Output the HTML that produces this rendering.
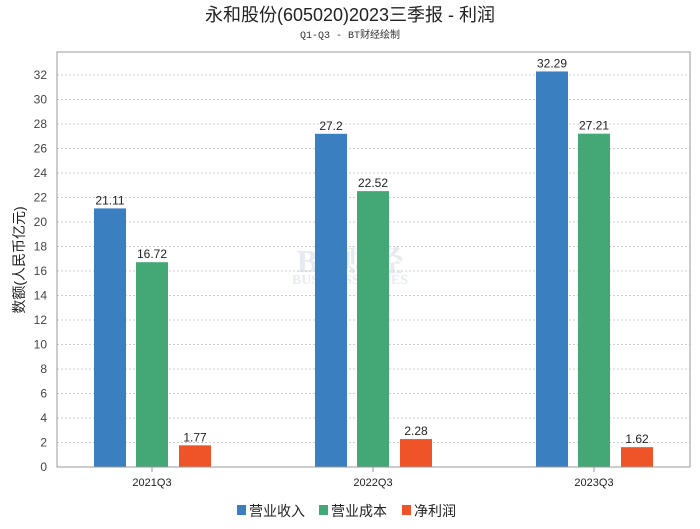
<!DOCTYPE html>
<html><head><meta charset="utf-8"><style>
body{margin:0;background:#fff;font-family:"Liberation Sans","Noto Sans CJK SC",sans-serif;}
</style></head><body>
<svg id="c" width="700" height="524" xmlns="http://www.w3.org/2000/svg">
<text x="350" y="21" text-anchor="middle" font-size="18" fill="#222" font-family="Liberation Sans,Noto Sans CJK SC,sans-serif">永和股份(605020)2023三季报 - 利润</text>
<text x="350" y="38" text-anchor="middle" font-size="10" fill="#333" font-family="Liberation Mono,Noto Sans CJK SC,sans-serif">Q1-Q3 - BT财经绘制</text>
<text x="350" y="272" text-anchor="middle" font-size="32" font-weight="bold" fill="#e6ebf2" font-family="Liberation Serif,Noto Serif CJK SC,serif">BT财经</text>
<text x="350" y="284" text-anchor="middle" font-size="14" font-weight="bold" fill="#e6ebf2" font-family="Liberation Serif,serif">BUSINESS TIMES</text>
<text transform="translate(24,260) rotate(-90)" text-anchor="middle" font-size="14" fill="#222" font-family="Liberation Sans,Noto Sans CJK SC,sans-serif">数额(人民币亿元)</text>
<g id="grid"></g><g id="bars"></g>
<rect x="57" y="52" width="633" height="415" fill="none" stroke="#999"/>
<g font-size="14" font-family="Liberation Sans,Noto Sans CJK SC,sans-serif" fill="#222">
<rect x="237" y="505" width="9" height="10" fill="#3a80c0"/><text x="249" y="516">营业收入</text>
<rect x="319" y="505" width="9" height="10" fill="#44a876"/><text x="331" y="516">营业成本</text>
<rect x="402" y="505" width="9" height="10" fill="#ef5428"/><text x="414" y="516">净利润</text>
</g>
</svg>
<script>
const categories=["2021Q3","2022Q3","2023Q3"];
const revenue=[21.11,27.2,32.29];
const cost=[16.72,22.52,27.21];
const netProfit=[1.77,2.28,1.62];
const yTicks=[0,2,4,6,8,10,12,14,16,18,20,22,24,26,28,30,32];
const NS="http://www.w3.org/2000/svg";
const y0=467,yScale=(467-75)/32;
const Y=v=>y0-v*yScale;
const X=i=>152+i*221;
function mk(t,a,p){const e=document.createElementNS(NS,t);for(const k in a)e.setAttribute(k,a[k]);p.appendChild(e);return e;}
const g=document.getElementById('grid'),b=document.getElementById('bars');
yTicks.forEach(v=>{
 const l=mk('line',{x1:57,x2:690,y1:Y(v),y2:Y(v),stroke:'#ccc','stroke-dasharray':'2,2'},g);
 
 
 const t=mk('text',{x:47,y:Y(v)+4,'text-anchor':'end','font-size':12,fill:'#444'},g);
 t.textContent=v;
 
 
});
const series=[[revenue,'#3a80c0',-42,'revenue'],[cost,'#44a876',0,'cost'],[netProfit,'#ef5428',43,'net-profit']];
categories.forEach((c,i)=>{
 const t=mk('text',{x:X(i),y:486,'text-anchor':'middle','font-size':11,fill:'#222'},g);
 t.textContent=c;
 
 
 const tk=mk('line',{x1:X(i),x2:X(i),y1:467,y2:472,stroke:'#999'},g);
 
 
 series.forEach(([arr,col,off,nm])=>{
  const v=arr[i],cx=X(i)+off;
  const r=mk('rect',{x:cx-16,y:Y(v),width:32,height:v*yScale,fill:col},b);
  
  
  const l=mk('text',{x:cx,y:Y(v)-4,'text-anchor':'middle','font-size':12,fill:'#222'},b);
  l.textContent=v;
  
  
 });
});
</script>
</body></html>
